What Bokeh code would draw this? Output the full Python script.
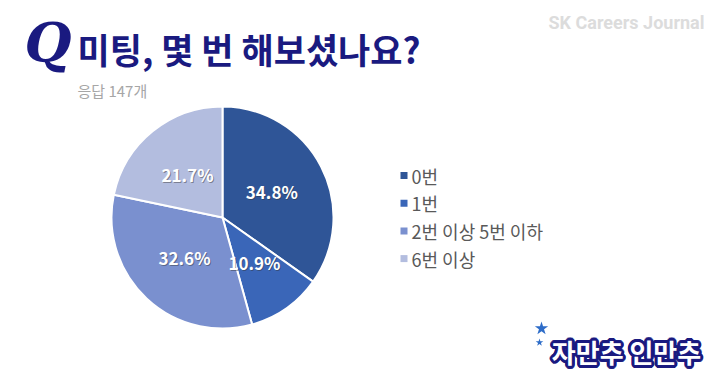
import math
from bokeh.plotting import figure
from bokeh.models import Range1d, ColumnDataSource
from bokeh.core.properties import value
from bokeh.embed import file_html
from bokeh.resources import INLINE

# ---- data ----
categories = ["0번", "1번", "2번 이상 5번 이하", "6번 이상"]
shares = [34.8, 10.9, 32.6, 21.7]
colors = ["#2F5597", "#3A66B8", "#7A90CF", "#B3BDDF"]
title = "미팅, 몇 번 해보셨나요?"
subtitle = "응답 147개"
brand = "SK Careers Journal"
badge = "자만추 인만추"

FW, FH = 704, 374
def Y(y):
    return FH - y

p = figure(width=FW, height=FH, output_backend="svg", toolbar_location=None,
           x_range=Range1d(0, FW), y_range=Range1d(0, FH),
           min_border=0, min_border_left=0, min_border_right=0,
           min_border_top=0, min_border_bottom=0)
p.axis.visible = False
p.grid.visible = False
p.outline_line_color = None
p.background_fill_color = "white"
p.border_fill_color = "white"

KR = value("Noto Sans CJK KR")
NAVY = "#1A1A80"

# ---- pie ----
cx, cy, r = 222, Y(217), 111
total = sum(shares)
starts, ends, lx, ly, labels = [], [], [], [], []
cum = 0.0
for s in shares:
    a0 = math.pi / 2 - 2 * math.pi * cum / total
    cum += s
    a1 = math.pi / 2 - 2 * math.pi * cum / total
    starts.append(a0)
    ends.append(a1)
    mid = (a0 + a1) / 2
    lx.append(cx + 0.5 * r * math.cos(mid))
    ly.append(cy + 0.5 * r * math.sin(mid))
    labels.append(f"{s:.1f}%")

src = ColumnDataSource(dict(start=starts, end=ends, color=colors,
                            lx=lx, ly=ly, label=labels,
                            lxs=[v + 1 for v in lx], lys=[v - 1 for v in ly]))
p.wedge(x=cx, y=cy, radius=r, start_angle="start", end_angle="end",
        direction="clock", fill_color="color", line_color="white",
        line_width=2, source=src)
p.text(x="lxs", y="lys", text="label", source=src, text_color="#333333",
       text_alpha=0.45, text_font=KR, text_font_style="bold",
       text_font_size="17px", text_align="center", text_baseline="middle")
p.text(x="lx", y="ly", text="label", source=src, text_color="white",
       text_font=KR, text_font_style="bold", text_font_size="17px",
       text_align="center", text_baseline="middle")

# ---- legend ----
leg_y = [Y(175 + i * 27.7) for i in range(len(categories))]
lsrc = ColumnDataSource(dict(y=leg_y, color=colors, name=categories))
p.scatter(x=403.5, y="y", marker="square", size=7, fill_color="color",
          line_color=None, source=lsrc)
p.text(x=411, y="y", text="name", source=lsrc, text_color="#595959",
       text_font=KR, text_font_size="18px", text_align="left",
       text_baseline="middle")

# ---- title area ----
p.text(x=[24], y=[Y(42)], text=["Q"], text_color=NAVY,
       text_font=value("DejaVu Serif"), text_font_style="bold italic",
       text_font_size="54px", text_align="left", text_baseline="middle")
p.text(x=[77], y=[Y(48)], text=[title], text_color=NAVY, text_font=KR,
       text_font_style="bold", text_font_size="35px", text_align="left",
       text_baseline="middle")
p.text(x=[77], y=[Y(90)], text=[subtitle], text_color="#A6A6A6",
       text_font=KR, text_font_size="15px", text_align="left",
       text_baseline="middle")
p.text(x=[548], y=[Y(22)], text=[brand], text_color="#DCDCDC",
       text_font=value("Roboto"), text_font_style="bold",
       text_font_size="18px", text_align="left", text_baseline="middle")

# ---- badge ----
bx, by = 626, Y(351)
offs = []
for k in range(16):
    a = 2 * math.pi * k / 16
    offs.append((3 * math.cos(a), 3 * math.sin(a)))
p.text(x=[bx + dx for dx, dy in offs], y=[by + dy for dx, dy in offs],
       text=[badge] * len(offs), text_color=NAVY, text_font=KR,
       text_font_style="bold", text_font_size="26px", text_align="center",
       text_baseline="middle")
p.text(x=[bx], y=[by], text=[badge], text_color="white", text_font=KR,
       text_font_style="bold", text_font_size="26px", text_align="center",
       text_baseline="middle")
p.scatter(x=[541, 539], y=[Y(328), Y(342)], marker="star", size=[14, 8],
          fill_color="#2D6CC8", line_color=None)

open("out.html", "w").write(file_html(p, INLINE))
